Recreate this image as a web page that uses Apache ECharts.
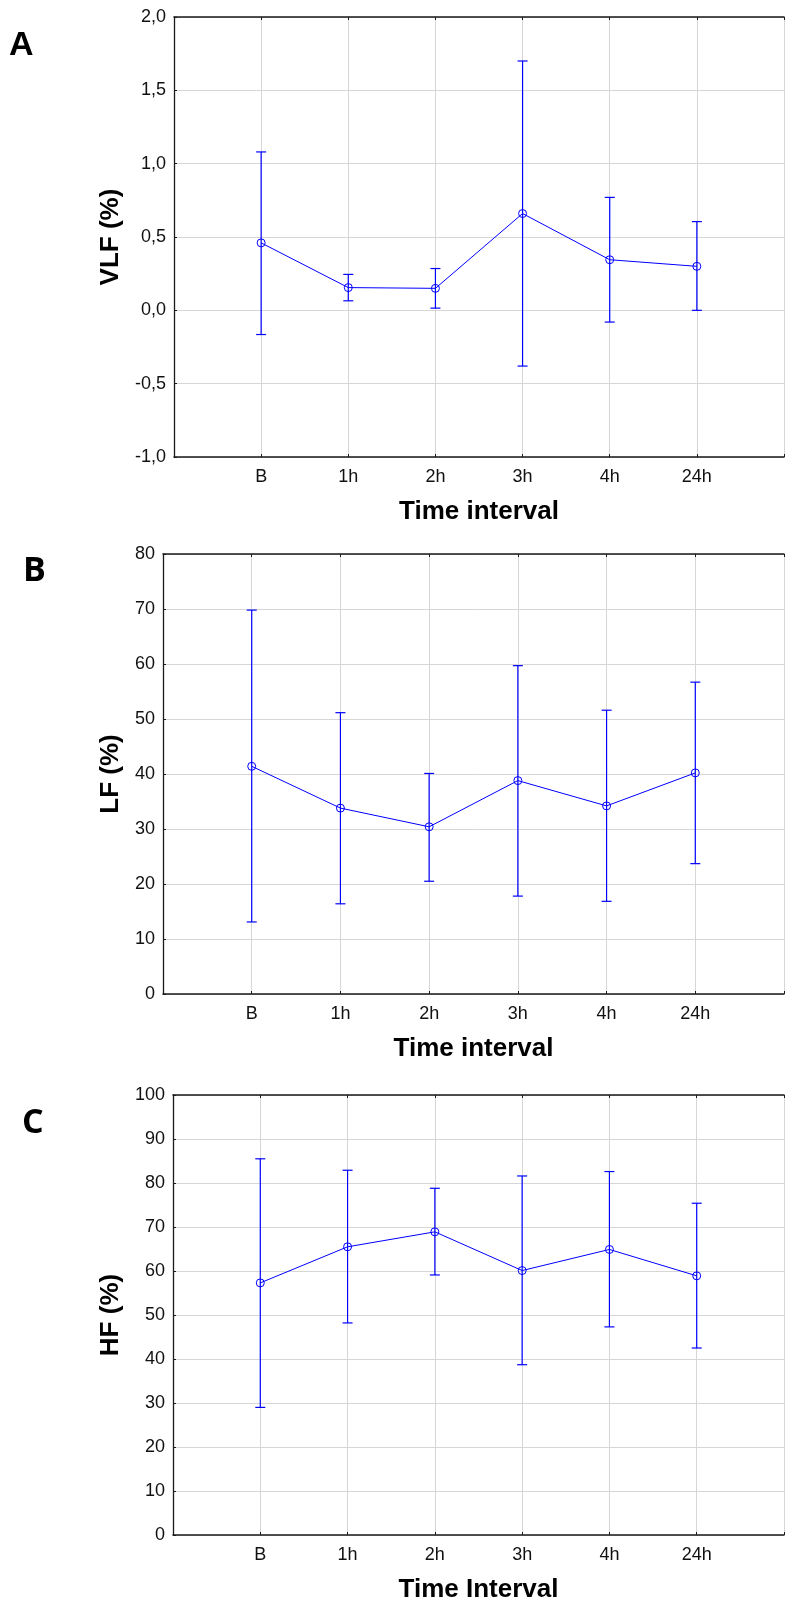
<!DOCTYPE html>
<html>
<head>
<meta charset="utf-8">
<script src="https://cdn.jsdelivr.net/npm/echarts@6/dist/echarts.min.js"></script>
<style>
  html, body { margin: 0; padding: 0; background: #fff; }
  #chart { width: 787px; height: 1606px; }
</style>
</head>
<body>
<div id="chart"></div>
<script>
// Time points (slot 0 and slot 7 are empty padding on the x scale)
const timeLabels = ['', 'B', '1h', '2h', '3h', '4h', '24h', ''];
const timeSlots = [1, 2, 3, 4, 5, 6];

// A: VLF (%) — mean with lower / upper whisker ends
const vlfMean  = [0.46, 0.155, 0.15, 0.66, 0.345, 0.30];
const vlfLower = [-0.165, 0.065, 0.015, -0.38, -0.08, 0.0];
const vlfUpper = [1.08, 0.245, 0.285, 1.70, 0.77, 0.605];

// B: LF (%)
const lfMean  = [41.4, 33.8, 30.4, 38.8, 34.2, 40.2];
const lfLower = [13.1, 16.4, 20.5, 17.8, 16.85, 23.7];
const lfUpper = [69.8, 51.15, 40.1, 59.7, 51.6, 56.7];

// C: HF (%)
const hfMean  = [57.3, 65.5, 68.9, 60.1, 64.9, 58.9];
const hfLower = [29.0, 48.2, 59.1, 38.7, 47.3, 42.5];
const hfUpper = [85.5, 82.9, 78.8, 81.6, 82.6, 75.4];

const BLUE = '#0000ff';
const AXIS = '#1a1a1a';
const GRIDLINE = '#d6d6d6';
const FONT = '"Liberation Sans", Arial, sans-serif';

const panels = [
  { letter: 'A', letterFont: FONT, letterPos: [9, 29],
    grid: { left: 174, top: 17, width: 616, height: 440 },
    yName: 'VLF (%)', yGap: 50, xName: 'Time interval',
    min: -1, max: 2, interval: 0.5,
    fmt: v => v.toFixed(1).replace('.', ','),
    mean: vlfMean, lower: vlfLower, upper: vlfUpper },
  { letter: 'B', letterFont: '"Open Sans", sans-serif', letterPos: [23, 554],
    grid: { left: 163, top: 554, width: 628, height: 440 },
    yName: 'LF (%)', yGap: 39, xName: 'Time interval',
    min: 0, max: 80, interval: 10,
    fmt: v => String(v),
    mean: lfMean, lower: lfLower, upper: lfUpper },
  { letter: 'C', letterFont: '"Open Sans", sans-serif', letterPos: [22, 1106],
    grid: { left: 173, top: 1095, width: 618, height: 440 },
    yName: 'HF (%)', yGap: 48, xName: 'Time Interval',
    min: 0, max: 100, interval: 10,
    fmt: v => String(v),
    mean: hfMean, lower: hfLower, upper: hfUpper }
];

const grids = [], xAxes = [], yAxes = [], series = [], graphics = [];

panels.forEach((p, i) => {
  grids.push(Object.assign({ containLabel: false }, p.grid));

  // bottom time scale
  xAxes.push({
    type: 'value', gridIndex: i, position: 'bottom',
    min: 0, max: 7, interval: 1,
    axisLine: { show: true, onZero: false, lineStyle: { color: AXIS, width: 1.5 } },
    axisTick: { show: true, inside: true, length: 3, lineStyle: { color: AXIS } },
    axisLabel: { show: true, margin: 11, color: '#111', fontFamily: FONT, fontSize: 18,
      formatter: v => timeLabels[v] || '' },
    splitLine: { show: true, lineStyle: { color: GRIDLINE, width: 1 } },
    name: p.xName, nameLocation: 'middle', nameGap: 42,
    nameTextStyle: { color: '#000', fontFamily: FONT, fontSize: 26, fontWeight: 'bold' }
  });
  // top frame line
  xAxes.push({
    type: 'value', gridIndex: i, position: 'top',
    min: 0, max: 7, interval: 1,
    axisLine: { show: true, onZero: false, lineStyle: { color: AXIS, width: 1.5 } },
    axisTick: { show: true, inside: true, length: 3, lineStyle: { color: AXIS } },
    axisLabel: { show: false },
    splitLine: { show: false }
  });

  yAxes.push({
    type: 'value', gridIndex: i,
    min: p.min, max: p.max, interval: p.interval,
    axisLine: { show: true, onZero: false, lineStyle: { color: AXIS, width: 1.3 } },
    axisTick: { show: true, inside: true, length: 3, lineStyle: { color: AXIS } },
    axisLabel: { margin: 8, color: '#111', fontFamily: FONT, fontSize: 18, formatter: p.fmt },
    splitLine: { show: true, lineStyle: { color: GRIDLINE, width: 1 } },
    name: p.yName, nameLocation: 'middle', nameGap: p.yGap, nameRotate: 90,
    nameTextStyle: { color: '#000', fontFamily: FONT, fontSize: 26, fontWeight: 'bold' }
  });

  const xIdx = i * 2;

  // whiskers with end caps
  series.push({
    type: 'custom', xAxisIndex: xIdx, yAxisIndex: i, z: 3,
    data: timeSlots.map((s, k) => [s, p.lower[k], p.upper[k]]),
    renderItem: (params, api) => {
      const lo = api.coord([api.value(0), api.value(1)]);
      const hi = api.coord([api.value(0), api.value(2)]);
      const cap = 5;
      const style = { stroke: BLUE, lineWidth: 1.2 };
      return {
        type: 'group',
        children: [
          { type: 'line', shape: { x1: lo[0], y1: lo[1], x2: hi[0], y2: hi[1] }, style },
          { type: 'line', shape: { x1: hi[0] - cap, y1: hi[1], x2: hi[0] + cap, y2: hi[1] }, style },
          { type: 'line', shape: { x1: lo[0] - cap, y1: lo[1], x2: lo[0] + cap, y2: lo[1] }, style }
        ]
      };
    }
  });

  // mean line with open circle markers
  series.push({
    type: 'line', xAxisIndex: xIdx, yAxisIndex: i, z: 4,
    data: timeSlots.map((s, k) => [s, p.mean[k]]),
    symbol: 'circle', symbolSize: 8,
    lineStyle: { color: BLUE, width: 1 },
    itemStyle: { color: 'rgba(255,255,255,0)', borderColor: BLUE, borderWidth: 1 },
    animation: false
  });

  graphics.push({
    type: 'text', left: p.letterPos[0], top: p.letterPos[1],
    style: { text: p.letter, fill: '#000', font: 'bold 34px ' + p.letterFont }
  });
});

const chart = echarts.init(document.getElementById('chart'), null, { renderer: 'canvas' });
chart.setOption({
  animation: false,
  backgroundColor: '#fff',
  grid: grids,
  xAxis: xAxes,
  yAxis: yAxes,
  series: series,
  graphic: graphics
});
</script>
</body>
</html>
